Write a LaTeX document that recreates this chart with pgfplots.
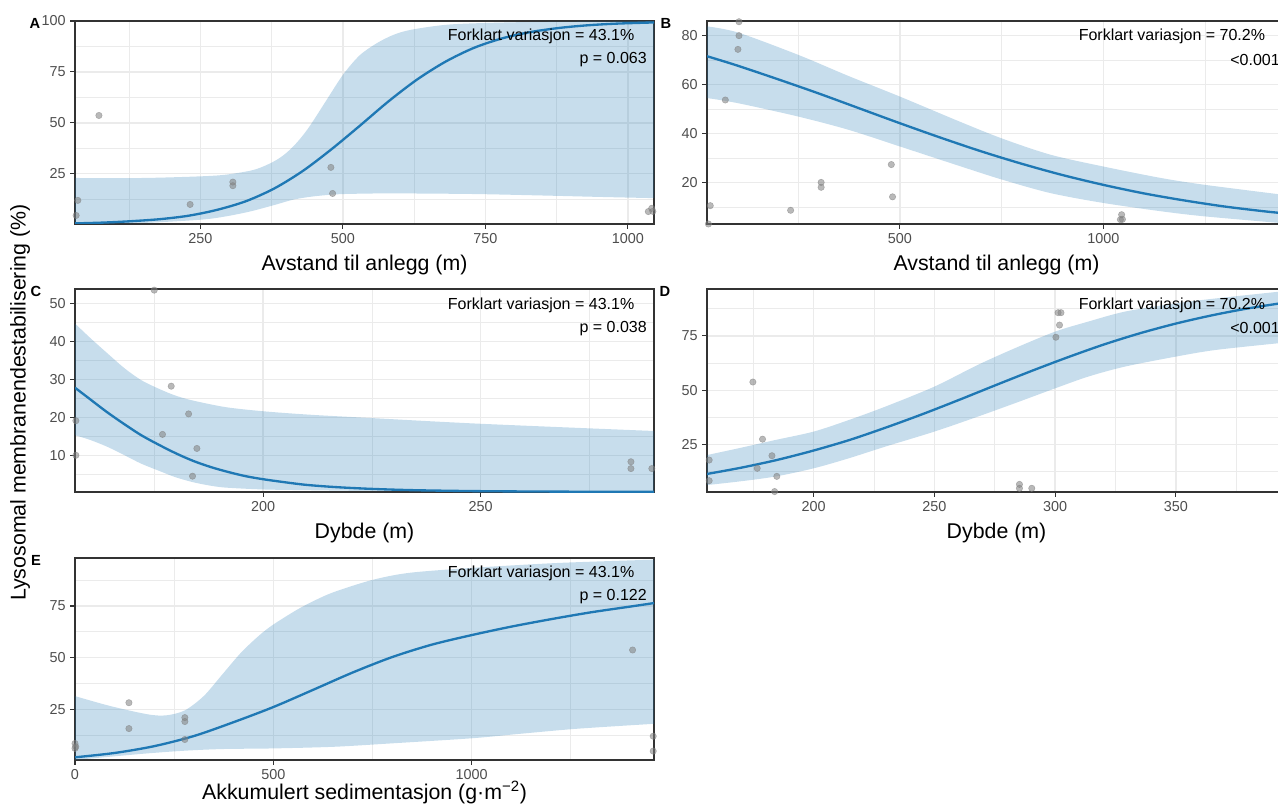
\documentclass[border=0pt]{standalone}
\usepackage{fontspec}
\setmainfont{Liberation Sans}
\usepackage{pgfplots}
\pgfplotsset{compat=1.18}
\usepgfplotslibrary{fillbetween}

\definecolor{fitblue}{HTML}{1F78B4}
\definecolor{gridgray}{HTML}{EBEBEB}
\definecolor{framegray}{HTML}{333333}
\definecolor{labelgray}{HTML}{4D4D4D}
\definecolor{ptgray}{HTML}{808080}

\pgfplotsset{
  panel/.style={
    scale only axis, width=434.25pt, height=152.25pt, anchor=north west,
    axis line style={draw=framegray, line width=0.9pt},
    tick align=outside, tick pos=left,
    major tick length=3.5pt, minor tick length=0pt,
    tick style={draw=framegray, line width=0.8pt},
    grid=both,
    major grid style={draw=gridgray, line width=1.1pt},
    minor grid style={draw=gridgray, line width=0.55pt},
    tick label style={font=\fontsize{10.8}{13}\selectfont, text=labelgray},
    /pgf/number format/assume math mode=true,
    /pgf/number format/1000 sep={},
    scaled ticks=false,
    xlabel style={font=\fontsize{16}{19}\selectfont, yshift=-2pt},
  },
  fit/.style={draw=fitblue, line width=1.75pt, smooth, tension=0.5, no markers},
  bound/.style={draw=none, smooth, tension=0.5, no markers, forget plot},
  band/.style={fill=fitblue, fill opacity=0.25, draw=none},
  pts/.style={only marks, mark=*, mark size=2.4pt, color=ptgray, opacity=0.55},
}

\begin{document}
\begin{tikzpicture}
\tikzset{
  stat/.style={anchor=east, inner sep=0pt, font=\fontsize{12}{14}\selectfont},
  tag/.style={anchor=center, inner sep=0pt, font=\fontsize{11}{13}\selectfont\bfseries},
}

% A: distance to plant
\begin{axis}[panel, at={(56.25pt,-15.75pt)},
  xmin=30, xmax=1046, ymin=0.3, ymax=100,
  xtick={250,500,750,1000}, minor xtick={125,375,625,875},
  ytick={25,50,75,100}, minor ytick={12.5,37.5,62.5,87.5},
  xlabel={Avstand til anlegg (m)}]
\addplot[bound, name path=upA] coordinates {(30,22.9) (150,22.9) (250,23.7) (294,24.5) (338,26.5) (360,28.5) (382,31.5) (400,35) (420,40.5) (441,48) (471,61) (500,73.5) (529,83) (559,89) (588,93.1) (618,95.6) (676,98) (735,98.9) (850,99.6) (1046,100)};
\addplot[bound, name path=loA] coordinates {(30,0.3) (147,0.8) (250,2.4) (294,4) (338,6.5) (382,9.8) (412,12.2) (441,13.6) (471,14.5) (500,15) (559,15.3) (618,15.3) (735,15) (850,14.3) (950,13.6) (1046,13)};
\addplot[band] fill between[of=upA and loA];
\addplot[fit] coordinates {(30,0.6) (80,1.0) (130,1.7) (180,2.7) (230,4.4) (280,7.3) (330,11.5) (380,17.8) (430,26.4) (480,37) (530,48.6) (580,60.5) (630,71.2) (680,80) (730,86.8) (780,91.5) (830,94.6) (880,96.6) (930,97.9) (980,98.7) (1046,99.3)};
\addplot[pts] coordinates {(32,4.5) (35,11.9) (72,53.6) (232,9.9) (307,20.9) (307,19.1) (479,28.1) (482,15.3) (1036,6.4) (1042,8) (1044,6.5)};
\end{axis}

% B: distance to plant
\begin{axis}[panel, at={(530.25pt,-15.75pt)},
  xmin=26, xmax=1449, ymin=3.0, ymax=86,
  xtick={500,1000}, minor xtick={250,750,1250},
  ytick={20,40,60,80}, minor ytick={10,30,50,70},
  xlabel={Avstand til anlegg (m)}]
\addplot[bound, name path=upB] coordinates {(26,83.8) (102,81.3) (251,72.1) (374,63.5) (500,55.1) (645,45) (752,37.9) (871,31.3) (1000,26.5) (1142,21.8) (1250,19) (1449,14.8)};
\addplot[bound, name path=loB] coordinates {(26,54.5) (102,52.4) (251,46.9) (374,41.5) (500,34.7) (645,26.8) (752,21.1) (871,15.6) (1000,11.6) (1142,8.2) (1250,6.1) (1449,3.2)};
\addplot[band] fill between[of=upB and loB];
\addplot[fit] coordinates {(26,71.6) (100,67.8) (200,62.2) (300,56.4) (400,50.3) (500,44.2) (600,38.3) (700,32.7) (800,27.6) (900,23) (1000,19) (1100,15.5) (1200,12.6) (1300,10.1) (1400,8.1) (1449,7.3)};
\addplot[pts] coordinates {(34,10.5) (29.5,3.0) (104.6,85.7) (104.6,80) (102,74.4) (71,53.7) (231.5,8.6) (306.5,20) (306.5,18) (479,27.3) (482,14.1) (1045,6.8) (1042,4.8) (1047,4.9)};
\end{axis}

% C: depth
\begin{axis}[panel, at={(56.25pt,-216.75pt)},
  xmin=156.8, xmax=289.8, ymin=0.33, ymax=53.8,
  xtick={200,250}, minor xtick={175,225,275},
  ytick={10,20,30,40,50}, minor ytick={5,15,25,35,45},
  xlabel={Dybde (m)}]
\addplot[bound, name path=upC] coordinates {(156.8,44.7) (160.4,40.8) (164.3,36.8) (168.2,32.9) (172,29.8) (175.9,27.6) (179.7,25.8) (183.6,24.5) (191.3,22.7) (200,21.6) (210.6,20.7) (225,19.8) (250,18.3) (289.8,16.4)};
\addplot[bound, name path=loC] coordinates {(156.8,15.3) (160.4,14) (164.3,12.2) (168.2,10) (172,7.8) (175.9,6) (179.7,4.3) (183.6,3) (187.4,2.1) (191.3,1.5) (200,1.0) (210.6,0.8) (225,0.6) (250,0.45) (289.8,0.35)};
\addplot[band] fill between[of=upC and loC];
\addplot[fit] coordinates {(156.8,27.8) (160,25) (164,21.5) (168,18.3) (172,15.3) (176,12.8) (180,10.5) (184,8.5) (188,6.9) (192,5.6) (196,4.5) (200,3.7) (205,2.9) (210,2.2) (217,1.6) (225,1.15) (235,0.8) (250,0.55) (270,0.42) (289.8,0.36)};
\addplot[pts] coordinates {(157,19.1) (157,10) (175,53.5) (178.9,28.2) (176.9,15.5) (182.9,20.9) (184.8,11.8) (183.8,4.5) (284.5,8.3) (284.5,6.5) (289.3,6.5)};
\end{axis}

% D: depth
\begin{axis}[panel, at={(530.25pt,-216.75pt)},
  xmin=155.8, xmax=395.6, ymin=3.2, ymax=96.6,
  xtick={200,250,300,350}, minor xtick={175,225,275,325,375},
  ytick={25,50,75}, minor ytick={12.5,37.5,62.5,87.5},
  xlabel={Dybde (m)}]
\addplot[bound, name path=upD] coordinates {(155.8,20.2) (168.8,23.3) (184,27.1) (200,31) (214.5,36.3) (229.7,42.5) (250,51.7) (268,61.7) (283.2,69.3) (300,77) (313.7,81.6) (328.9,86.2) (350,90) (366.8,92.3) (395.6,95.7)};
\addplot[bound, name path=loD] coordinates {(155.8,6.4) (168.8,8) (184,10.3) (200,14.1) (214.5,18.7) (229.7,24.1) (250,31) (268,37.9) (283.2,44) (300,50.9) (313.7,56.3) (328.9,60.9) (350,65.5) (366.8,68.6) (395.6,72)};
\addplot[band] fill between[of=upD and loD];
\addplot[fit] coordinates {(155.8,11.5) (170,14.4) (185,18) (200,22.3) (215,27.2) (230,32.9) (245,39) (260,45.5) (275,52.2) (290,58.8) (305,65.1) (320,71) (335,76.2) (350,80.7) (365,84.5) (380,87.7) (395.6,90.4)};
\addplot[pts] coordinates {(156.7,17.9) (156.7,8.4) (174.8,53.8) (178.8,27.5) (176.6,14.1) (182.7,19.9) (184.7,10.4) (183.8,3.4) (285.2,6.7) (285.2,4.9) (290.3,4.9) (300.3,74.4) (301.2,85.7) (302.4,85.7) (301.8,80)};
\end{axis}

% E: accumulated sedimentation
\begin{axis}[panel, at={(56.25pt,-418.5pt)}, height=151.5pt,
  xmin=0, xmax=1460, ymin=0.5, ymax=98.2,
  xtick={0,500,1000}, minor xtick={250,750,1250},
  ytick={25,50,75}, minor ytick={12.5,37.5,62.5,87.5},
  xlabel={Akkumulert sedimentasjon (g·m\textsuperscript{−2})},
  xlabel style={yshift=8pt}]
\addplot[bound, name path=upE] coordinates {(0,31.4) (89,26.6) (183,22.6) (230,22.1) (277,24.5) (325,31.5) (372,42) (419,52.5) (466,61) (500,66) (560,73.2) (606,77.8) (654,81.8) (748,87.5) (842,91) (1000,93.4) (1218,95.8) (1460,97.4)};
\addplot[bound, name path=loE] coordinates {(0,0.5) (89,2.1) (183,3.7) (277,5) (372,5.8) (500,6.1) (654,6.9) (795,8.5) (1000,11) (1124,13.2) (1265,15.6) (1460,18)};
\addplot[band] fill between[of=upE and loE];
\addplot[fit] coordinates {(0,1.8) (100,3.9) (200,7.2) (300,12.1) (400,18.8) (500,26.1) (600,34.4) (700,42.8) (800,50.3) (900,56.3) (1000,60.9) (1100,65) (1200,68.6) (1300,71.9) (1400,74.7) (1460,76.4)};
\addplot[pts] coordinates {(0,8.5) (0,6.1) (2,6.9) (136,28.2) (136,15.7) (277,21) (277,19.1) (277,10.4) (1406,53.7) (1458,12) (1458,4.8)};
\end{axis}

% model statistics
\node[stat] at (475.9pt,-27.5pt) {Forklart variasjon = 43.1\%};
\node[stat] at (485.25pt,-45pt) {p = 0.063};
\node[stat] at (949pt,-27.5pt) {Forklart variasjon = 70.2\%};
\node[stat] at (960pt,-45pt) {<0.001};
\node[stat] at (475.9pt,-228.75pt) {Forklart variasjon = 43.1\%};
\node[stat] at (485.25pt,-246.2pt) {p = 0.038};
\node[stat] at (949pt,-228.75pt) {Forklart variasjon = 70.2\%};
\node[stat] at (960pt,-246.2pt) {<0.001};
\node[stat] at (475.9pt,-430pt) {Forklart variasjon = 43.1\%};
\node[stat] at (485.25pt,-447.5pt) {p = 0.122};

% panel tags
\node[tag] at (26.25pt,-17.25pt) {A};
\node[tag] at (499.5pt,-17.25pt) {B};
\node[tag] at (27pt,-218.25pt) {C};
\node[tag] at (498.75pt,-218.25pt) {D};
\node[tag] at (27pt,-420pt) {E};

% shared y label
\node[rotate=90, font=\fontsize{16}{19}\selectfont] at (15pt,-301.9pt) {Lysosomal membranendestabilisering (\%)};

\pgfresetboundingbox
\path[use as bounding box] (0pt,0pt) rectangle (958.5pt,-603.75pt);
\end{tikzpicture}
\end{document}
